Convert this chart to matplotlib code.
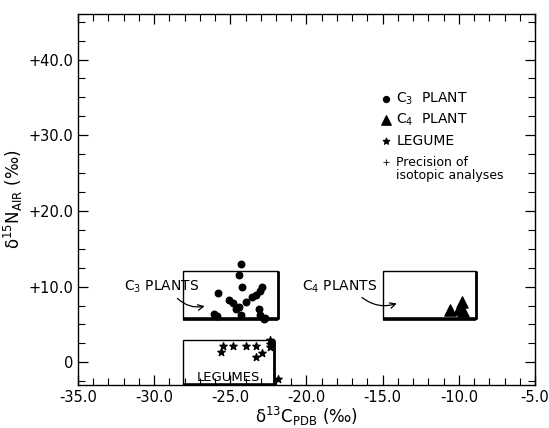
import numpy as np
import matplotlib.pyplot as plt
from matplotlib.patches import Rectangle
from matplotlib.ticker import MultipleLocator, FixedLocator

plt.rcParams['font.family'] = ['Liberation Sans Narrow', 'DejaVu Sans']

# data
c3_x = [-24.3, -24.4, -25.8, -24.2, -22.9, -23.05, -23.3, -23.6, -25.1, -24.8,
        -24.0, -24.4, -24.6, -24.3, -23.1, -23.05, -22.8, -26.05, -25.9, -22.7]
c3_y = [13.0, 11.5, 9.1, 9.9, 9.9, 9.4, 8.9, 8.6, 8.2, 7.8,
        8.0, 7.3, 7.0, 6.2, 7.1, 6.3, 5.7, 6.4, 6.1, 5.9]
c4_x = [-10.6, -10.0, -9.8, -9.7]
c4_y = [6.9, 7.0, 8.0, 6.8]
leg_x = [-25.5, -25.6, -24.8, -24.0, -23.3, -23.3, -22.9, -22.4, -22.4, -22.4, -21.9]
leg_y = [2.15, 1.3, 2.15, 2.15, 2.2, 0.75, 1.2, 3.0, 2.4, 2.0, -2.2]

x_ticks = [-35, -30, -25, -20, -15, -10, -5]
x_labels = ['-35.0', '-30.0', '-25.0', '-20.0', '-15.0', '-10.0', '-5.0']
y_ticks = [0, 10, 20, 30, 40]
y_labels = ['0', '+10.0', '+20.0', '+30.0', '+40.0']

fig = plt.figure(figsize=(5.49, 4.28), dpi=100)
ax = fig.add_axes([0.142, 0.1005, 0.8325, 0.8665])
ax.set_xlim(-35, -5)
ax.set_ylim(-3, 46)

# boxes with a heavy shadow on bottom and right edge
def shadow_box(x0, x1, y0, y1):
    ax.add_patch(Rectangle((x0, y0), x1 - x0, y1 - y0, fill=False, lw=1.0, ec='black', zorder=2))
    ax.plot([x0, x1], [y0, y0], color='black', lw=2.6, solid_capstyle='butt', zorder=2)
    ax.plot([x1, x1], [y0, y1], color='black', lw=2.0, solid_capstyle='butt', zorder=2)

shadow_box(-28.1, -21.9, 5.7, 12.0)
shadow_box(-15.0, -8.9, 5.7, 12.0)
shadow_box(-28.1, -22.1, -2.95, 2.9)

ax.scatter(c3_x, c3_y, marker='o', s=22, color='black', zorder=3)
ax.scatter(c4_x, c4_y, marker='^', s=65, color='black', zorder=3)
ax.scatter(leg_x, leg_y, marker='*', s=30, color='black', zorder=3)

# box labels
ax.text(-29.5, 10.0, r'C$_\mathrm{3}$ PLANTS', fontsize=10, ha='center', va='center')
ax.annotate('', xy=(-26.5, 7.5), xytext=(-28.6, 8.7),
            arrowprops=dict(arrowstyle='->', lw=0.9, connectionstyle='arc3,rad=0.3'))
ax.text(-17.8, 10.0, r'C$_\mathrm{4}$ PLANTS', fontsize=10, ha='center', va='center')
ax.annotate('', xy=(-13.9, 7.9), xytext=(-16.5, 8.8),
            arrowprops=dict(arrowstyle='->', lw=0.9, connectionstyle='arc3,rad=0.3'))
ax.text(-25.1, -2.0, 'LEGUMES', fontsize=9.5, ha='center', va='center')

# legend
lx, tx = -14.8, -14.1
ax.scatter([lx], [34.8], marker='o', s=18, color='black')
ax.text(tx, 34.8, r'C$_\mathrm{3}$  PLANT', fontsize=10, va='center')
ax.scatter([lx], [32.0], marker='^', s=45, color='black')
ax.text(tx, 32.0, r'C$_\mathrm{4}$  PLANT', fontsize=10, va='center')
ax.scatter([lx], [29.3], marker='*', s=22, color='black')
ax.text(tx, 29.3, 'LEGUME', fontsize=10, va='center')
ax.scatter([lx], [26.5], marker='+', s=15, color='black', lw=0.6)
ax.text(tx, 27.3, 'Precision of\nisotopic analyses', fontsize=9, va='top', linespacing=1.0)

# axes and ticks
ax.xaxis.set_major_locator(FixedLocator(x_ticks))
ax.set_xticklabels(x_labels)
ax.xaxis.set_minor_locator(MultipleLocator(1))
ax.yaxis.set_major_locator(FixedLocator(y_ticks))
ax.set_yticklabels(y_labels)
ax.yaxis.set_minor_locator(MultipleLocator(2.5))
ax.tick_params(which='both', direction='in', top=True, right=True, labelsize=10.5)
ax.tick_params(which='major', length=7, width=0.9)
ax.tick_params(which='minor', length=5, width=0.8)
for s in ax.spines.values():
    s.set_linewidth(1.0)

ax.set_xlabel(r'δ$^\mathrm{13}$C$_\mathrm{PDB}$ (‰)', fontsize=12, labelpad=0)
ax.set_ylabel(r'δ$^\mathrm{15}$N$_\mathrm{AIR}$ (‰)', fontsize=12, labelpad=2)

fig.savefig('out.png', dpi=100)
